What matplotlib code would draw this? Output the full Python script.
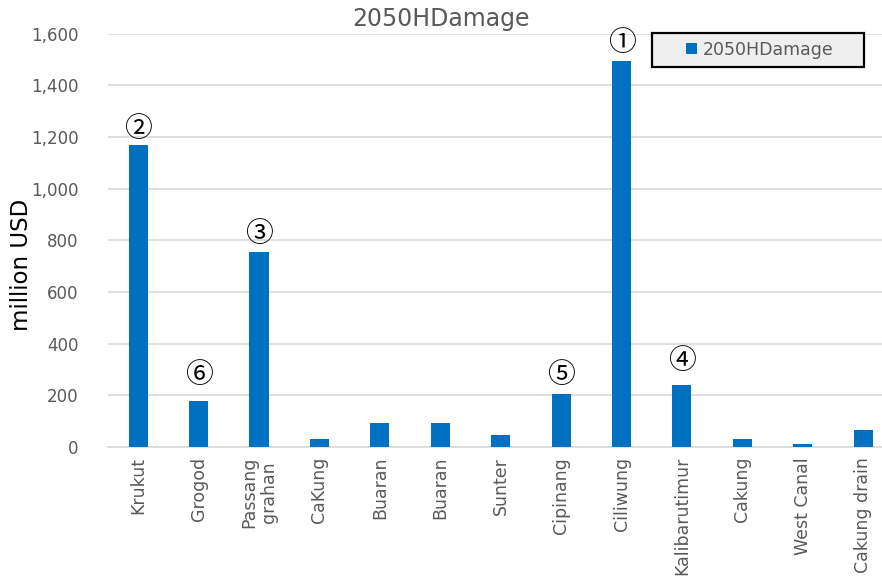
import numpy as np
import matplotlib.pyplot as plt
from matplotlib.patches import Rectangle
from matplotlib.ticker import FuncFormatter

rivers = ["Krukut", "Grogod", "Passang\ngrahan", "CaKung", "Buaran", "Buaran", "Sunter",
          "Cipinang", "Ciliwung", "Kalibarutimur", "Cakung", "West Canal", "Cakung drain"]
damage = [1170, 177, 755, 30, 92, 92, 49, 204, 1495, 239, 30, 11, 66]
# rank labels shown above the top six bars
ranks = {8: "①", 0: "②", 2: "③", 9: "④", 7: "⑤", 1: "⑥"}
# extra lift (points) for labels that sit higher in the original
lift = {8: 1, 0: 0, 2: 1, 9: 6, 7: 2, 1: 7}

blue = "#0070c0"
grey = "#595959"

fig = plt.figure(figsize=(8.82, 5.83), dpi=100)
# plot area runs a little past the right edge, as in the original
ax = fig.add_axes([0.1224, 0.233, 0.8905, 0.709])

x = np.arange(len(rivers))
ax.bar(x, damage, width=0.315, color=blue, label="2050HDamage", zorder=3)

for i, r in ranks.items():
    ax.annotate(r, (x[i], damage[i]), xytext=(0, 1 + lift[i]), textcoords="offset points",
                ha="center", va="bottom", fontsize=20, color="black",
                family=["Noto Sans CJK JP", "DejaVu Sans"])

ax.set_xlim(-0.5, len(rivers) - 0.5)
ax.set_ylim(0, 1600)
ax.set_yticks(np.arange(0, 1601, 200))
ax.yaxis.set_major_formatter(FuncFormatter(lambda v, p: f"{int(v):,}"))
ax.set_xticks(x)
ax.set_xticklabels(rivers, rotation=90, va="top", ha="center", linespacing=1.15)
ax.tick_params(axis="y", length=0, colors=grey, labelsize=12, pad=21)
ax.tick_params(axis="x", length=0, colors=grey, labelsize=12.5, pad=7)

ax.grid(axis="y", color="#d9d9d9", linewidth=1.2, zorder=0)
for s in ["top", "right", "left"]:
    ax.spines[s].set_visible(False)
ax.spines["bottom"].set_color("#d9d9d9")
ax.spines["bottom"].set_linewidth(1.2)

ax.set_ylabel("million USD", fontsize=16.5, color="black")
ax.yaxis.set_label_coords(-0.095, 0.44)
fig.text(0.5, 0.968, "2050HDamage", ha="center", va="center", fontsize=17, color=grey)

# legend box drawn by hand to get the wide frame of the original
box = Rectangle((652 / 882, 1 - 67 / 583), 212 / 882, 34 / 583,
                transform=fig.transFigure, facecolor="#efefef",
                edgecolor="black", linewidth=1.6, zorder=5, clip_on=False)
ax.add_patch(box)
leg = ax.legend(loc="center", bbox_to_anchor=(760 / 882, 1 - 50 / 583),
                bbox_transform=fig.transFigure, fontsize=12.5, frameon=False,
                handlelength=0.6, handleheight=0.6, handletextpad=0.35,
                labelcolor=grey)
leg.set_zorder(6)

fig.savefig("out.png", dpi=100)
